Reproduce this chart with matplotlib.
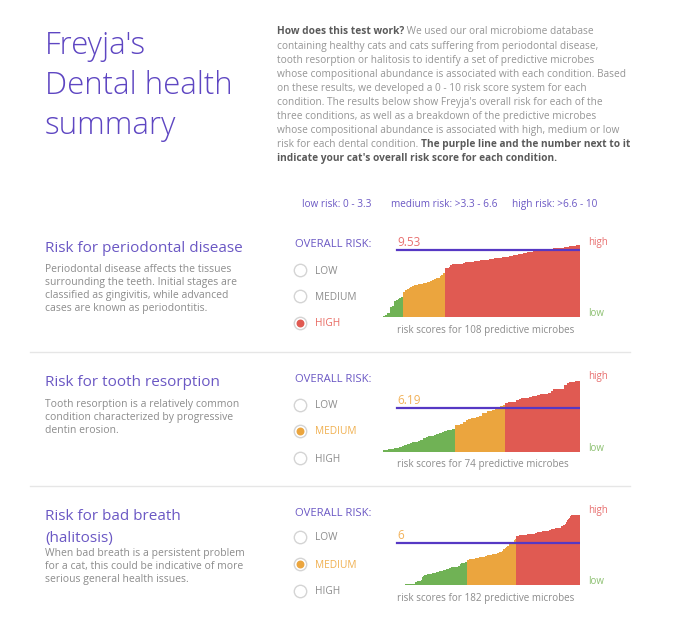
import matplotlib.pyplot as plt

plt.rcParams['font.family'] = ['Open Sans', 'DejaVu Sans']

# risk scores per predictive microbe, sorted
perio_scores = [
    0.1, 0.25, 0.55, 0.6, 1.4, 1.5, 2.3, 2.45, 2.6, 2.75, 2.85,
    3.6, 3.8, 3.95, 4.1, 4.25, 4.4, 4.5, 4.6, 4.65, 4.7, 4.75, 4.8, 4.85, 4.9,
    5.0, 5.1, 5.2, 5.4, 5.5, 5.6, 5.8, 5.95, 6.2,
    6.95, 7.0, 7.05,
    7.4, 7.45, 7.48, 7.5, 7.52, 7.55, 7.58, 7.6,
    7.75, 7.78, 7.8, 7.82, 7.85, 7.88, 7.9,
    8.0, 8.03, 8.06, 8.09, 8.12, 8.15, 8.18, 8.21, 8.24,
    8.3, 8.34, 8.38, 8.42, 8.46, 8.5, 8.54, 8.58, 8.62,
    8.7, 8.75, 8.8, 8.85, 8.9, 8.95, 9.0, 9.05, 9.1,
    9.15, 9.2, 9.25, 9.3, 9.35, 9.4, 9.45, 9.5, 9.55,
    9.6, 9.62, 9.65, 9.68, 9.7, 9.72, 9.75, 9.78, 9.8, 9.82,
    9.85, 9.9, 9.95, 10.0, 10.05, 10.1, 10.1, 10.12, 10.15, 10.15,
]
resorp_scores = [
    0.15, 0.25, 0.3, 0.4, 0.5, 0.55, 0.6, 0.8, 0.9, 1.1, 1.2, 1.3, 1.4, 1.5,
    1.6, 1.9, 2.0, 2.15, 2.25, 2.35, 2.5, 2.65, 2.8, 2.9, 3.0, 3.1, 3.25,
    3.7, 3.8, 3.9, 4.2, 4.5, 4.6, 4.7, 4.8, 4.9, 5.1, 5.4, 5.5, 5.7, 5.8,
    5.9, 6.1, 6.2, 6.4, 6.55,
    6.95, 7.0, 7.0, 7.05, 7.25, 7.4, 7.55, 7.6, 7.65, 7.8, 7.85, 7.9, 7.95,
    8.1, 8.15, 8.2, 8.3, 8.6, 8.8, 8.8, 8.85, 8.9, 9.4, 9.75, 9.8, 9.8,
    9.95, 10.05,
]
breath_scores = [
    0, 0, 0, 0, 0, 0, 0, 0, 0, 0, 0, 0, 0, 0, 0, 0, 0,
    0.05, 0.06, 0.07, 0.08, 0.08, 0.09, 0.1, 0.1, 0.1, 0.11, 0.12, 0.12, 0.13,
    0.45, 0.5, 0.5, 0.55, 0.6, 0.65,
    1.2, 1.3, 1.35, 1.4, 1.45, 1.5,
    1.55, 1.6, 1.62, 1.65, 1.7, 1.72, 1.75, 1.78, 1.8, 1.85,
    1.95, 2.0, 2.05, 2.1, 2.12, 2.15, 2.2, 2.25, 2.3, 2.35,
    2.45, 2.5, 2.52, 2.55, 2.58, 2.6, 2.62, 2.65, 2.7,
    3.0, 3.05, 3.1, 3.12, 3.15, 3.2, 3.25,
    3.6, 3.62, 3.65, 3.67, 3.7, 3.72, 3.75, 3.78,
    3.85, 3.88, 3.9, 3.93, 3.95, 3.98, 4.0, 4.03, 4.05,
    4.15, 4.2, 4.22, 4.25, 4.28, 4.3, 4.33, 4.35, 4.38, 4.42,
    4.55, 4.6, 4.65, 4.7, 4.75, 4.8,
    5.05, 5.15, 5.25, 5.4, 5.5,
    5.75, 5.85, 5.95, 6.05, 6.15,
    6.4, 6.5,
    7.0, 7.0, 7.02, 7.04, 7.05, 7.06,
    7.1, 7.12, 7.14, 7.16, 7.18, 7.2, 7.22, 7.24, 7.26, 7.28, 7.3, 7.32, 7.35,
    7.45, 7.5, 7.52, 7.55, 7.58, 7.6, 7.63, 7.66, 7.68, 7.7, 7.73, 7.76, 7.8,
    7.9, 7.93, 7.96, 8.0, 8.02, 8.05, 8.08, 8.1, 8.15,
    8.3, 8.4, 8.45, 8.55, 8.65,
    9.0, 9.15, 9.3, 9.45,
    9.85, 9.9, 9.92, 9.95, 9.97, 10.0, 10.0, 10.0, 10.0,
]

overall_scores = [9.53, 6.19, 6]
overall_labels = ['9.53', '6.19', '6']
risk_levels = ['HIGH', 'MEDIUM', 'MEDIUM']
section_titles = [['Risk for periodontal disease'],
                  ['Risk for tooth resorption'],
                  ['Risk for bad breath', '(halitosis)']]
section_texts = [
    ['Periodontal disease affects the tissues',
     'surrounding the teeth. Initial stages are',
     'classified as gingivitis, while advanced',
     'cases are known as periodontitis.'],
    ['Tooth resorption is a relatively common',
     'condition characterized by progressive',
     'dentin erosion.'],
    ['When bad breath is a persistent problem',
     'for a cat, this could be indicative of more',
     'serious general health issues.'],
]
all_scores = [perio_scores, resorp_scores, breath_scores]

PURPLE = '#5e46c2'
LIGHT_PURPLE = '#6b58c4'
GREEN = '#70b255'
ORANGE = '#eba53e'
RED = '#e05a52'
LINE = '#5638c4'
GREY = '#8c8c8c'
DARK = '#5a5a5a'

W, H = 700, 628
fig = plt.figure(figsize=(7, 6.28), dpi=100)
bg = fig.add_axes([0, 0, 1, 1])
bg.set_xlim(0, W)
bg.set_ylim(H, 0)
bg.axis('off')

# title
for i, line in enumerate(["Freyja's", 'Dental health', 'summary']):
    bg.text(45, 54 + 40 * i, line, fontsize=22.5, color=PURPLE, fontweight='light', va='baseline')

# explanation paragraph (mixed bold / normal)
para = [
    [('How does this test work?', True), (' We used our oral microbiome database', False)],
    [('containing healthy cats and cats suffering from periodontal disease,', False)],
    [('tooth resorption or halitosis to identify a set of predictive microbes', False)],
    [('whose compositional abundance is associated with each condition. Based', False)],
    [('on these results, we developed a 0 - 10 risk score system for each', False)],
    [("condition. The results below show Freyja's overall risk for each of the", False)],
    [('three conditions, as well as a breakdown of the predictive microbes', False)],
    [('whose compositional abundance is associated with high, medium or low', False)],
    [('risk for each dental condition. ', False), ('The purple line and the number next to it', True)],
    [("indicate your cat's overall risk score for each condition.", True)],
]
renderer = fig.canvas.get_renderer()
for i, parts in enumerate(para):
    x = 277
    for txt, bold in parts:
        t = bg.text(x, 34.5 + 14.1 * i, txt, fontsize=7.3, va='baseline',
                    color=DARK if bold else '#959595', fontweight='bold' if bold else 'normal')
        x += t.get_window_extent(renderer).width

# legend of risk bands
for x, txt in [(302, 'low risk: 0 - 3.3'), (391, 'medium risk: >3.3 - 6.6'), (512, 'high risk: >6.6 - 10')]:
    bg.text(x, 207, txt, fontsize=7.2, color=LIGHT_PURPLE, va='baseline')

# separators
for y in [352, 486]:
    bg.plot([30, 630], [y, y], color='#e6e6e6', lw=1)

title_y = [247, 381, 515]
desc_y = [269, 404, 553]
overall_y = [243, 378, 512]
radio_y = [[270, 296, 323], [405, 431, 458], [537, 564, 591]]
base_y = [317, 451.5, 585]
level_colors = {'LOW': GREEN, 'MEDIUM': ORANGE, 'HIGH': RED}
label_colors = {'LOW': '#8cc070', 'MEDIUM': '#f0b050', 'HIGH': '#e86a62'}

for k in range(3):
    for j, line in enumerate(section_titles[k]):
        bg.text(45, title_y[k] + 5 + 22 * j, line, fontsize=11, color=LIGHT_PURPLE, va='baseline')
    for j, line in enumerate(section_texts[k]):
        bg.text(45, desc_y[k] + 3 + 13 * j, line, fontsize=7.45, color=GREY, va='baseline')

    bg.text(295, overall_y[k] + 3.8, 'OVERALL RISK:', fontsize=8.1, color=LIGHT_PURPLE, va='baseline')
    for lvl, y in zip(['LOW', 'MEDIUM', 'HIGH'], radio_y[k]):
        bg.scatter([300], [y], s=80, facecolor='white', edgecolor='#d4d4d4', linewidth=1, zorder=3)
        sel = lvl == risk_levels[k]
        if sel:
            bg.scatter([300], [y], s=22, color=level_colors[lvl], zorder=4)
        bg.text(315, y + 3.5, lvl, fontsize=7.25, va='baseline',
                color=label_colors[lvl] if sel else GREY)

    scores = all_scores[k]
    n = len(scores)
    bg.text(397, base_y[k] + 16, f'risk scores for {n} predictive microbes',
            fontsize=7.15, color=GREY, va='baseline')

    # step-area chart of sorted scores, coloured by risk band
    ax_h = 10.3 * 7.05
    ax = fig.add_axes([383 / W, (H - base_y[k]) / H, 197 / W, ax_h / H])
    bands = [GREEN if v <= 3.3 else ORANGE if v <= 6.6 else RED for v in scores]
    for c in [GREEN, ORANGE, RED]:
        idx = [i for i in range(n) if bands[i] == c]
        if idx:
            a, b = idx[0], idx[-1] + 1
            ax.stairs(scores[a:b], range(a, b + 1), fill=True, color=c, linewidth=0)
    ax.set_xlim(0, n)
    ax.set_ylim(0, 10.3)
    ax.axis('off')
    ax.axhline(overall_scores[k], xmin=14 / 197, xmax=1, color=LINE, lw=1.6)
    vcol = '#e87070' if risk_levels[k] == 'HIGH' else '#f2b25a'
    ax.annotate(overall_labels[k], xy=(14 / 197, overall_scores[k]), xycoords=('axes fraction', 'data'),
                xytext=(0, 2.5), textcoords='offset points', fontsize=8.5, color=vcol, va='baseline')
    ax.annotate('high', xy=(1, 1), xycoords='axes fraction', xytext=(6, 1.5),
                textcoords='offset points', fontsize=7, color='#e87070', va='center')
    ax.annotate('low', xy=(1, 0), xycoords='axes fraction', xytext=(6, 2.5),
                textcoords='offset points', fontsize=7, color='#8cc070', va='center')

fig.savefig('out.png', dpi=100, facecolor='white')
